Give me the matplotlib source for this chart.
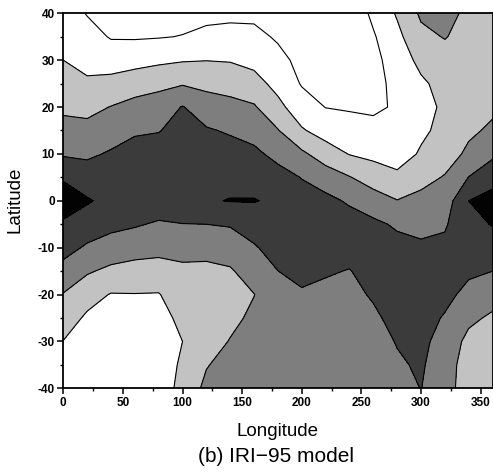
import numpy as np
import matplotlib
matplotlib.use('Agg')
import matplotlib.pyplot as plt
from matplotlib.ticker import MultipleLocator

plt.rcParams['font.family'] = ['Liberation Sans', 'DejaVu Sans']
plt.rcParams['axes.unicode_minus'] = False

# grid: longitude columns, latitude rows (north -> south)
lon = [0, 20, 40, 60, 80, 100, 120, 140, 160, 180, 200, 220, 240, 260, 280, 300, 320, 340, 360]
lat = [40, 35, 30, 25, 20, 15, 10, 5, 0, -5, -10, -15, -20, -25, -30, -35, -40]

# one list per longitude, values from lat 40 down to lat -40
col_000 = [1.5, 1.75, 2.0, 2.41, 2.82, 3.32, 3.89, 4.87, 5.6, 4.84, 4.32, 3.69, 2.95, 2.47, 1.98, 1.7, 1.5]
col_020 = [0.95, 1.36, 1.72, 2.14, 2.72, 3.29, 3.84, 4.47, 5.1, 4.49, 3.88, 3.11, 2.37, 1.85, 1.6, 1.45, 1.4]
col_040 = [0.7, 0.93, 1.55, 2.30, 3.03, 3.57, 4.1, 4.5, 4.7, 4.25, 3.58, 2.78, 1.95, 1.6, 1.4, 1.3, 1.3]
col_060 = [0.6, 0.91, 1.65, 2.56, 3.31, 3.90, 4.3, 4.6, 4.65, 4.1, 3.37, 2.66, 1.97, 1.6, 1.45, 1.35, 1.3]
col_080 = [0.6, 0.95, 1.80, 2.78, 3.42, 3.96, 4.4, 4.75, 4.6, 3.88, 3.28, 2.61, 1.95, 1.6, 1.4, 1.3, 1.3]
col_100 = [0.7, 1.03, 1.93, 2.92, 4.05, 4.3, 4.55, 4.75, 4.65, 3.98, 3.28, 2.83, 2.56, 2.28, 2.0, 2.2, 2.4]
col_120 = [0.75, 1.23, 1.98, 2.77, 3.44, 4.1, 4.5, 4.8, 4.93, 4.0, 3.28, 2.8, 2.55, 2.45, 2.55, 2.95, 3.2]
col_140 = [0.8, 1.29, 1.94, 2.63, 3.29, 3.89, 4.4, 4.78, 5.03, 4.08, 3.44, 2.9, 2.7, 2.75, 3.05, 3.3, 3.4]
col_160 = [0.8, 1.24, 1.73, 2.35, 3.10, 3.66, 4.2, 4.7, 5.04, 4.5, 3.89, 3.45, 2.98, 3.2, 3.45, 3.55, 3.6]
col_180 = [0.6, 0.89, 1.26, 1.70, 2.26, 3.05, 3.73, 4.35, 4.85, 4.75, 4.45, 3.99, 3.7, 3.6, 3.55, 3.55, 3.5]
col_200 = [0.4, 0.55, 0.75, 0.93, 1.44, 2.10, 3.19, 3.97, 4.35, 4.6, 4.65, 4.35, 3.85, 3.6, 3.5, 3.5, 3.5]
col_220 = [0.3, 0.4, 0.55, 0.75, 0.98, 1.59, 2.49, 3.52, 4.25, 4.6, 4.6, 4.12, 3.7, 3.55, 3.5, 3.5, 3.5]
col_240 = [0.3, 0.4, 0.55, 0.7, 0.9, 1.42, 1.96, 3.05, 3.88, 4.4, 4.45, 3.95, 3.7, 3.6, 3.6, 3.55, 3.5]
col_260 = [1.2, 0.9, 0.7, 0.65, 0.85, 1.26, 1.76, 2.54, 3.45, 4.2, 4.45, 4.45, 4.12, 3.8, 3.65, 3.6, 3.55]
col_280 = [2.1, 1.75, 1.5, 1.3, 1.1, 1.25, 1.5, 2.24, 3.03, 3.87, 4.3, 4.5, 4.5, 4.35, 4.05, 3.88, 3.6]
col_300 = [3.15, 2.75, 2.24, 1.85, 1.7, 1.8, 2.12, 2.71, 3.25, 3.74, 4.15, 4.35, 4.4, 4.35, 4.25, 4.12, 4.02]
col_320 = [3.3, 3.05, 2.6, 2.3, 2.15, 2.3, 2.6, 3.06, 3.48, 3.9, 4.2, 4.35, 4.25, 3.92, 3.6, 3.45, 3.4]
col_340 = [2.8, 2.65, 2.55, 2.6, 2.7, 2.85, 3.17, 4.02, 5.0, 4.7, 4.4, 4.15, 3.74, 3.2, 2.75, 2.55, 2.5]
col_360 = [2.35, 2.45, 2.55, 2.7, 2.85, 3.14, 3.81, 4.64, 5.35, 5.05, 4.53, 4.0, 3.38, 2.85, 2.6, 2.45, 2.4]

levels = [0, 1, 2, 3, 4, 5, 7]
shades = ['#ffffff', '#ffffff', '#c2c2c2', '#7e7e7e', '#3b3b3b', '#030303']

z = np.array([col_000, col_020, col_040, col_060, col_080, col_100, col_120,
              col_140, col_160, col_180, col_200, col_220, col_240, col_260,
              col_280, col_300, col_320, col_340, col_360]).T

fig = plt.figure(figsize=(4.93, 4.72), dpi=100)
ax = fig.add_axes([0.1284, 0.1773, 0.8706, 0.7945])

ax.contourf(lon, lat, z, levels=levels, colors=shades)
ax.contour(lon, lat, z, levels=levels[1:-1], colors='black', linewidths=0.8)

ax.set_xlim(0, 360)
ax.set_ylim(-40, 40)
ax.xaxis.set_major_locator(MultipleLocator(50))
ax.xaxis.set_minor_locator(MultipleLocator(25))
ax.yaxis.set_major_locator(MultipleLocator(10))
ax.yaxis.set_minor_locator(MultipleLocator(5))
ax.tick_params(which='major', direction='out', length=4, width=1.1, labelsize=8.5, pad=2)
ax.tick_params(which='minor', direction='out', length=2.5, width=1)
for lab in ax.get_xticklabels() + ax.get_yticklabels():
    lab.set_fontweight('bold')
for sp in ax.spines.values():
    sp.set_linewidth(1.3)

fig.text(15 / 493, 1 - 200 / 472, 'Latitude', rotation=90, ha='center', va='center', fontsize=13.5)
fig.text(278 / 493, 1 - 432 / 472, 'Longitude', ha='center', va='center', fontsize=13.5)
fig.text(276 / 493, 1 - 457 / 472, '(b) IRI\u221295 model', ha='center', va='center', fontsize=15)

plt.savefig('out.png', dpi=100)
